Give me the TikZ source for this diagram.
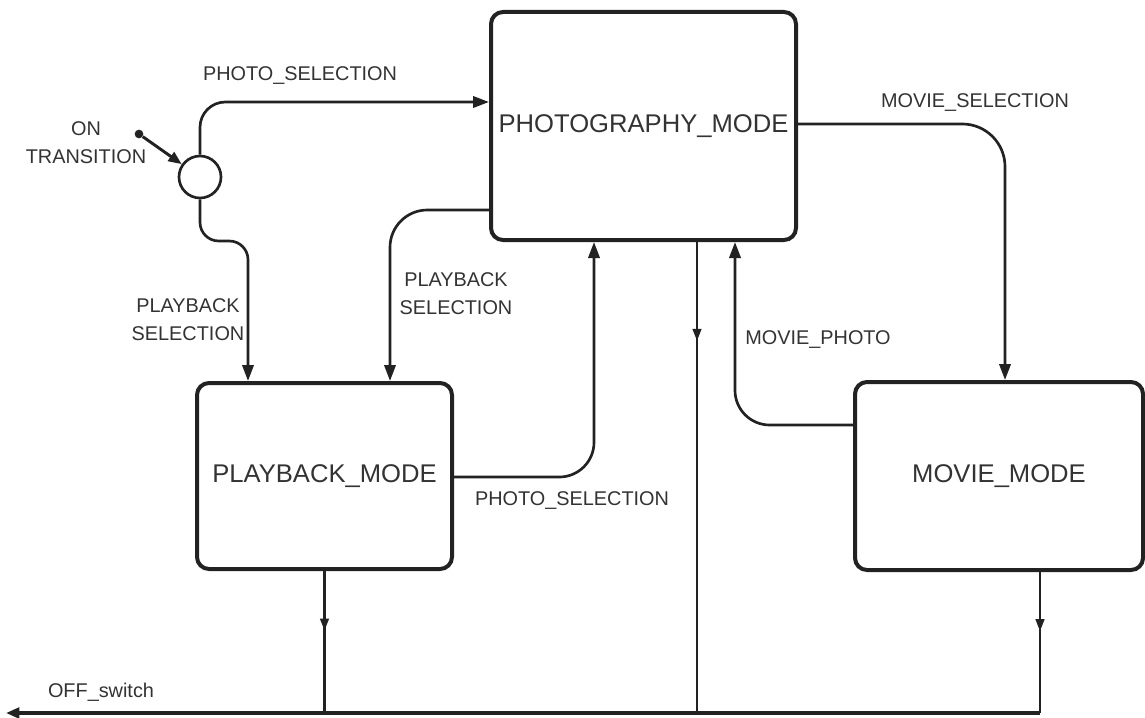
\documentclass[tikz,border=0pt]{standalone}
\usepackage{fontspec}
\setmainfont{Liberation Sans}
\usetikzlibrary{arrows.meta,decorations.markings}
\definecolor{ln}{HTML}{222222}
\definecolor{tx}{HTML}{333333}
\tikzset{
  statebox/.style={draw=ln, line width=3pt, rounded corners=9pt, fill=white, font=\fontsize{19.2}{22}\selectfont, text=tx},
  lbl/.style={font=\fontsize{14.9}{18}\selectfont, text=tx, align=center, inner sep=0pt},
  arr/.style={draw=ln, line width=2pt, -{Triangle[length=12pt,width=8.5pt]}},
  conn/.style={draw=ln, line width=2pt},
  thin/.style={draw=ln, line width=1.6pt},
  midarrow/.style={postaction={decorate}, decoration={markings, mark=at position #1 with {\arrow{Triangle[length=9pt,width=6.5pt]}}}}
}
\begin{document}
\begin{tikzpicture}[x=0.75pt,y=-0.75pt]
\useasboundingbox (0,0) rectangle (1145,717);
% states
\node[statebox, minimum width=228.75pt, minimum height=171pt] (photo) at (643.5,126) {PHOTOGRAPHY\_MODE};
\node[statebox, minimum width=191.25pt, minimum height=139.5pt] (pb) at (324.5,476) {PLAYBACK\_MODE};
\node[statebox, minimum width=216pt, minimum height=141pt] (mv) at (999,476) {MOVIE\_MODE};
\node[draw=ln, line width=2pt, circle, minimum size=31.5pt, inner sep=0pt] (init) at (200,177) {};
\node[fill=ln, circle, minimum size=6.5pt, inner sep=0pt] (dot) at (139,134) {};
\coordinate (offL) at (6,713);
\coordinate (offR) at (1040,713);
% labels
\node[lbl] (lon) at (86,143) {ON\\[3pt]TRANSITION};
\node[lbl] (l1) at (300,76) {PHOTO\_SELECTION};
\node[lbl] (l2) at (188,320) {PLAYBACK\\[3pt]SELECTION};
\node[lbl] (l3) at (456,294) {PLAYBACK\\[3pt]SELECTION};
\node[lbl] (l4) at (572,501) {PHOTO\_SELECTION};
\node[lbl] (l5) at (818,340) {MOVIE\_PHOTO};
\node[lbl] (l6) at (975,103) {MOVIE\_SELECTION};
\node[lbl] (l7) at (101,692) {OFF\_switch};
% connectors
\draw[arr, line width=2.2pt, -{Triangle[length=10pt,width=8pt]}] (dot) -- (init);
\draw[arr, rounded corners=19pt] (init.north) |- (photo.west |- 0,102);
\draw[arr, rounded corners=14pt] (init.south) -- (init.south |- 0,241) -- (248,241) -- (pb.north -| 248,0);
\draw[arr, rounded corners=28pt] (photo.west |- 0,210) -| (pb.north -| 390,0);
\draw[arr, rounded corners=26pt] (pb.east |- 0,477) -| (photo.south -| 594,0);
\draw[arr, rounded corners=26pt] (mv.west |- 0,425) -| (photo.south -| 735,0);
\draw[arr, rounded corners=32pt] (photo.east |- 0,124) -| (mv.north -| 1005,0);
\draw[thin, midarrow=0.21] (photo.south -| 697,0) -- (697,713);
\draw[thin, midarrow=0.42] (pb.south) -- (pb.south |- offL);
\draw[thin, midarrow=0.42] (mv.south -| 1040,0) -- (offR);
\draw[arr, line width=2.4pt, -{Triangle[length=10pt,width=8pt]}] (offR) -- (offL);
\end{tikzpicture}
\end{document}
